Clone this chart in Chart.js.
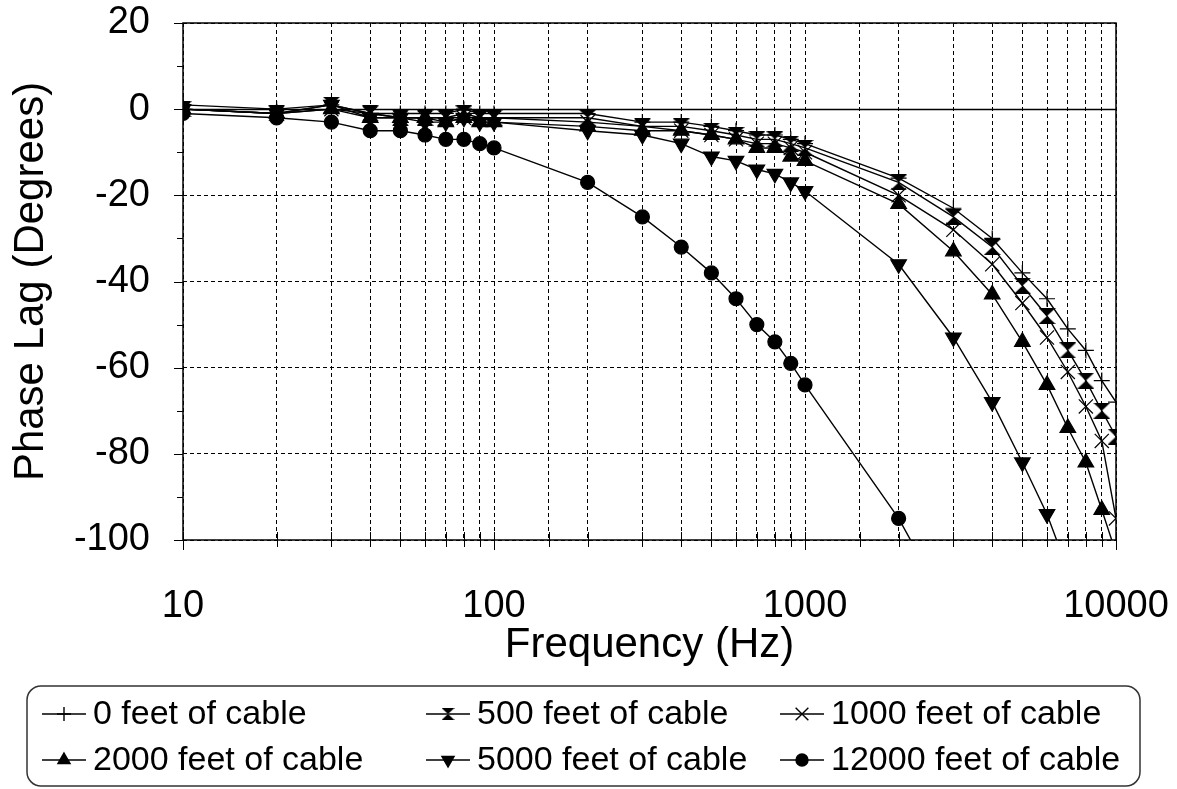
<!DOCTYPE html>
<html lang="en">
<head>
<meta charset="UTF-8">
<title>Phase Lag vs Frequency</title>
<script src="https://cdn.jsdelivr.net/npm/chart.js"></script>
<style>
  html, body { margin: 0; padding: 0; background: #fff; }
  #wrap { width: 1177px; height: 789px; }
</style>
</head>
<body>
<div id="wrap"><canvas id="phaseChart" width="1177" height="789"></canvas></div>
<script>
// frequencies (Hz)
const freqs = [10, 20, 30, 40, 50, 60, 70, 80, 90, 100,
  200, 300, 400, 500, 600, 700, 800, 900, 1000,
  2000, 3000, 4000, 5000, 6000, 7000, 8000, 9000, 10000];

// phase lag (degrees) per cable length
const ft0 = [1, 0, 1, -1, -1, -1, -1, 0, -1, -1,
  -1, -3, -3, -4, -5, -6, -6, -7, -8,
  -16, -23, -30, -38, -44, -51, -56, -63, -68];
const ft500 = [0, -1, 1, -1, -2, -2, -2, -1, -2, -2,
  -2, -4, -4, -5, -6, -7, -7, -8, -9,
  -17, -25, -32, -41, -48, -56, -63, -70, -76];
const ft1000 = [0, -1, 0, -1, -2, -2, -2, -2, -2, -2,
  -3, -4, -5, -6, -7, -8, -8, -9, -10,
  -20, -28, -36, -45, -53, -61, -69, -77, -95];
const ft2000 = [0, -1, 0, -2, -2, -2, -3, -2, -3, -3,
  -4, -5, -5, -6, -7, -9, -9, -11, -12,
  -22, -33, -43, -54, -64, -74, -82, -93, -103];
const ft5000 = [0, -1, 1, -2, -2, -3, -3, -2, -3, -3,
  -5, -6, -8, -11, -12, -14, -15, -17, -19,
  -36, -53, -68, -82, -94, -107, null, null, null];
const ft12000 = [-1, -2, -3, -5, -5, -6, -7, -7, -8, -9,
  -17, -25, -32, -38, -44, -50, -54, -59, -64,
  -95, -118, null, null, null, null, null, null, null];

const seriesNames = ['0 feet of cable', '500 feet of cable', '1000 feet of cable',
  '2000 feet of cable', '5000 feet of cable', '12000 feet of cable'];
const seriesValues = [ft0, ft500, ft1000, ft2000, ft5000, ft12000];

const FONT = '"Liberation Sans", Arial, Helvetica, sans-serif';

// hourglass marker, the library has no such point style
function makeHourglass(w, h) {
  const c = document.createElement('canvas');
  c.width = w; c.height = h;
  const g = c.getContext('2d');
  g.fillStyle = '#000';
  g.beginPath();
  g.moveTo(0, 0); g.lineTo(w, 0); g.lineTo(w / 2, h / 2);
  g.lineTo(w, h); g.lineTo(0, h); g.lineTo(w / 2, h / 2);
  g.closePath();
  g.fill();
  return c;
}
const hourglassBig = makeHourglass(17, 16);
const hourglassSmall = makeHourglass(13, 12);

const markers = [
  { pointStyle: 'cross', radius: 8, rotation: 0, legendRadius: 7 },
  { pointStyle: hourglassBig, radius: 8, rotation: 0, legend: hourglassSmall },
  { pointStyle: 'crossRot', radius: 10, rotation: 0, legendRadius: 9 },
  { pointStyle: 'triangle', radius: 9, rotation: 0, legendRadius: 7 },
  { pointStyle: 'triangle', radius: 9, rotation: 180, legendRadius: 7 },
  { pointStyle: 'circle', radius: 7, rotation: 0, legendRadius: 6 }
];

const datasets = seriesValues.map((vals, i) => ({
  label: seriesNames[i],
  data: freqs.map((f, j) => ({ x: f, y: vals[j] })),
  borderColor: '#000',
  backgroundColor: '#000',
  borderWidth: 1.4,
  pointStyle: markers[i].pointStyle,
  pointRadius: markers[i].radius,
  pointRotation: markers[i].rotation,
  pointBackgroundColor: '#000',
  pointBorderColor: '#000',
  pointBorderWidth: 1.2,
  spanGaps: false,
  tension: 0
}));

// box, zero line, tick marks and the framed legend
const framePlugin = {
  id: 'frame',
  afterDraw(chart) {
    const { ctx, chartArea: a, scales: { x, y } } = chart;
    ctx.save();
    ctx.strokeStyle = '#000';
    ctx.setLineDash([]);

    // zero line
    ctx.lineWidth = 1.5;
    const y0 = Math.round(y.getPixelForValue(0)) + 0.5;
    ctx.beginPath(); ctx.moveTo(a.left, y0); ctx.lineTo(a.right, y0); ctx.stroke();

    // plot border
    ctx.lineWidth = 1.5;
    ctx.strokeRect(a.left, a.top, a.right - a.left, a.bottom - a.top);

    // y ticks
    ctx.lineWidth = 1;
    for (let v = -100; v <= 20; v += 10) {
      const py = Math.round(y.getPixelForValue(v)) + 0.5;
      const len = v % 20 === 0 ? 9 : 6;
      ctx.beginPath(); ctx.moveTo(a.left - len, py); ctx.lineTo(a.left, py); ctx.stroke();
    }
    // x ticks
    x.ticks.forEach(t => {
      const px = Math.round(x.getPixelForValue(t.value)) + 0.5;
      const major = Math.abs(Math.log10(t.value) % 1) < 1e-9;
      ctx.beginPath();
      ctx.moveTo(px, a.bottom - 8);
      ctx.lineTo(px, a.bottom + (major ? 10 : 7));
      ctx.stroke();
    });

    // legend
    const box = { x: 27, y: 686, w: 1113, h: 100, r: 14 };
    ctx.lineWidth = 1.5;
    ctx.strokeStyle = '#333';
    ctx.beginPath();
    ctx.roundRect(box.x, box.y, box.w, box.h, box.r);
    ctx.stroke();

    const cols = [42, 426, 780];
    const rows = [714, 760];
    ctx.font = '34px ' + FONT;
    ctx.textBaseline = 'middle';
    ctx.textAlign = 'left';
    chart.data.datasets.forEach((ds, i) => {
      const lx = cols[i % 3];
      const ly = rows[Math.floor(i / 3)];
      ctx.strokeStyle = '#000';
      ctx.fillStyle = '#000';
      ctx.lineWidth = 1.4;
      ctx.beginPath(); ctx.moveTo(lx, ly); ctx.lineTo(lx + 44, ly); ctx.stroke();
      const m = markers[i];
      Chart.helpers.drawPoint(ctx, {
        pointStyle: m.legend || m.pointStyle,
        radius: m.legendRadius || 5,
        rotation: m.rotation,
        borderWidth: 1.2
      }, lx + 22, ly);
      ctx.fillStyle = '#000';
      ctx.fillText(ds.label, lx + 51, ly + 1);
    });
    ctx.restore();
  }
};

new Chart(document.getElementById('phaseChart'), {
  type: 'line',
  data: { datasets },
  options: {
    responsive: false,
    animation: false,
    layout: { padding: { left: 0, right: 61, top: 23, bottom: 118 } },
    plugins: {
      legend: { display: false },
      tooltip: { enabled: false }
    },
    scales: {
      x: {
        type: 'logarithmic',
        min: 10,
        max: 10000,
        grid: { color: '#000', lineWidth: 1, drawTicks: false },
        border: { display: false, dash: [4, 3] },
        ticks: {
          autoSkip: false,
          maxRotation: 0,
          padding: 44,
          color: '#000',
          font: { size: 38, family: FONT },
          callback: v => Math.abs(Math.log10(v) % 1) < 1e-9 ? String(v) : ''
        },
        title: {
          display: true,
          text: 'Frequency (Hz)',
          color: '#000',
          font: { size: 42, family: FONT },
          padding: { top: 0, bottom: 0 }
        },
        afterFit: s => {
          s.height = 131;
          s.paddingLeft = 0;
          s.paddingRight = 0;
        }
      },
      y: {
        min: -100,
        max: 20,
        grid: { color: '#000', lineWidth: 1, drawTicks: false },
        border: { display: false, dash: [4, 3] },
        ticks: {
          stepSize: 20,
          padding: 33,
          color: '#000',
          font: { size: 38, family: FONT }
        },
        title: {
          display: true,
          text: 'Phase Lag (Degrees)',
          color: '#000',
          font: { size: 42, family: FONT },
          padding: { top: 6, bottom: 0 }
        },
        afterFit: s => {
          s.width = 183;
          s.paddingTop = 0;
          s.paddingBottom = 0;
        }
      }
    }
  },
  plugins: [framePlugin]
});
</script>
</body>
</html>
